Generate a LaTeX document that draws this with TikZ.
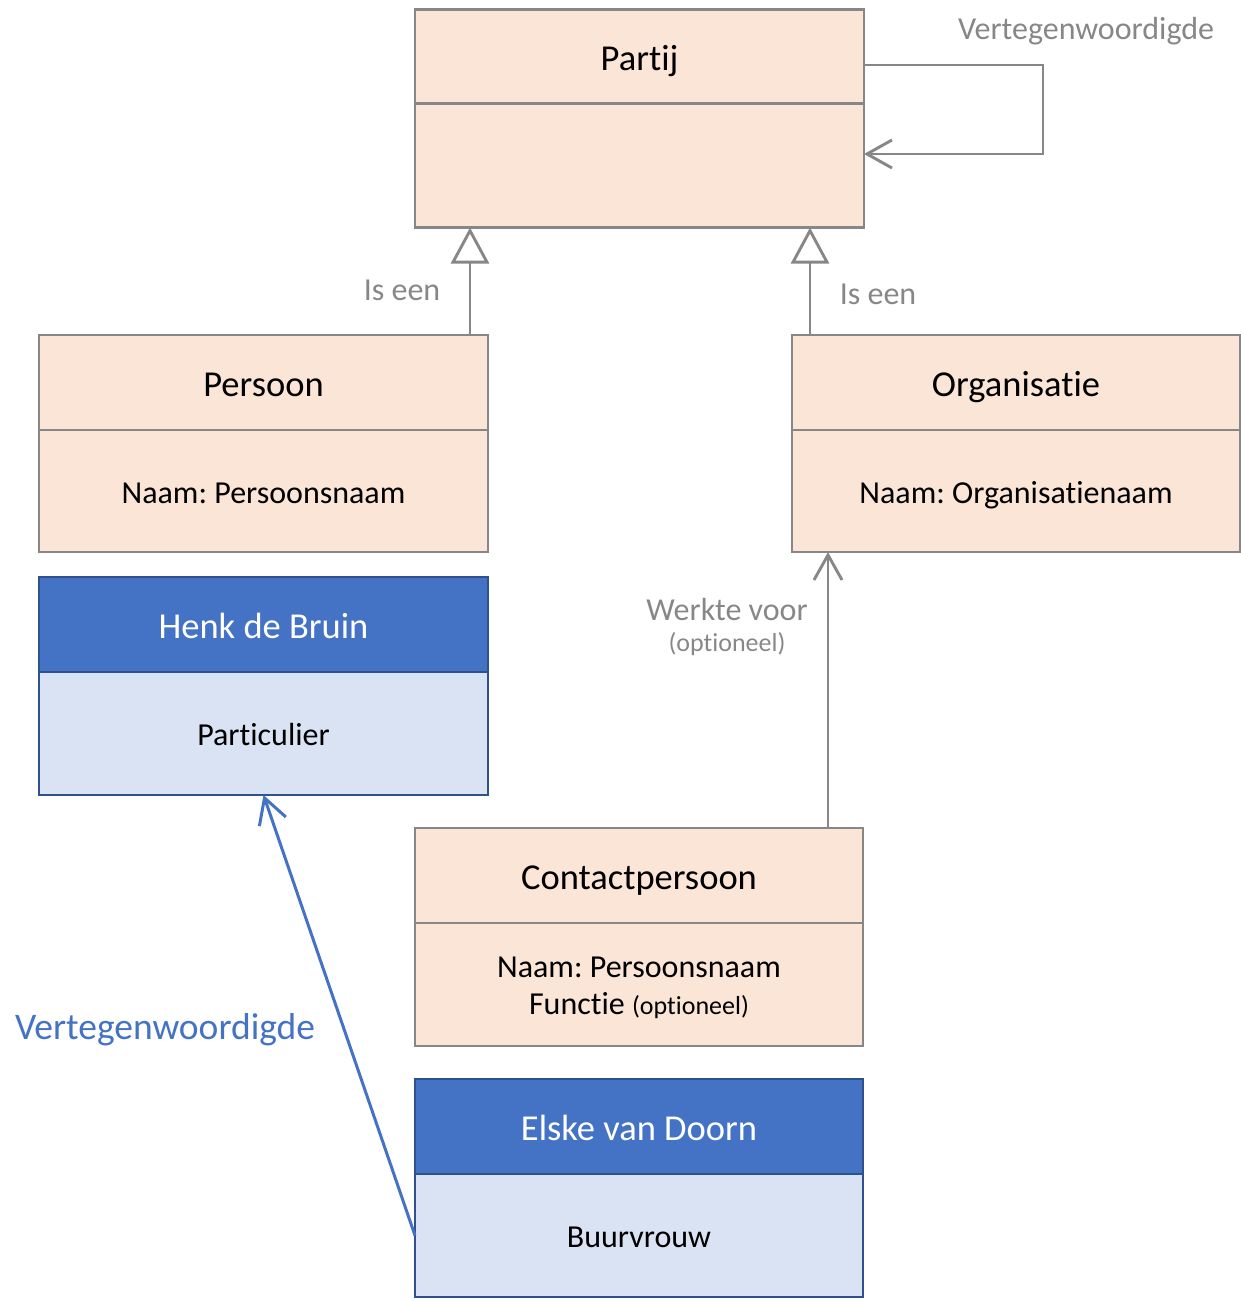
\documentclass[tikz,border=0pt]{standalone}
\usepackage{fontspec}
\setmainfont{Carlito}[Ligatures=NoCommon]
\usetikzlibrary{arrows.meta}
\frenchspacing
\definecolor{peach}{HTML}{FBE5D6}
\definecolor{umlgray}{HTML}{878787}
\definecolor{hdrblue}{HTML}{4472C4}
\definecolor{bodyblue}{HTML}{DAE3F3}
\definecolor{edgeblue}{HTML}{2F528F}
\newcommand{\bigtxt}{\fontsize{36.5}{44}\selectfont}
\newcommand{\midtxt}{\fontsize{32}{38}\selectfont}
\newcommand{\smalltxt}{\fontsize{26}{31}\selectfont}
\tikzset{
  box/.style={draw, line width=2.9pt, inner sep=0pt, outer sep=0pt, minimum width=449pt, align=center},
  hdrP/.style={box, draw=umlgray, fill=peach, minimum height=94pt, font=\bigtxt, text height=32pt, text depth=5pt},
  bodyP/.style={box, draw=umlgray, fill=peach, minimum height=123pt, font=\midtxt},
  hdrB/.style={box, draw=edgeblue, fill=hdrblue, text=white, minimum height=95pt, font=\bigtxt, text height=32pt, text depth=5pt},
  bodyB/.style={box, draw=edgeblue, fill=bodyblue, minimum height=123pt, font=\midtxt},
  oneline/.style={text height=28pt, text depth=4pt},
  conn/.style={draw=umlgray, line width=2.9pt},
  gen/.style={conn, -{Triangle[length=36pt, width=38pt, fill=white]}},
  assoc/.style={conn, -{Straight Barb[length=25pt, width=28pt]}},
  lbl/.style={text=umlgray, font=\midtxt, inner sep=0pt},
}
\begin{document}
\begin{tikzpicture}[x=1pt, y=-1pt]
\useasboundingbox (0,0) rectangle (1241,1301);

% Partij
\node[hdrP] (partijH) at (639.5,56.5) {Partij};
\node[bodyP, anchor=north, minimum height=124pt] (partijB) at (partijH.south) {};

% Persoon
\node[hdrP, minimum height=95pt] (persoonH) at (263.5,382.5) {Persoon};
\node[bodyP, oneline, anchor=north, minimum height=122pt] (persoonB) at (persoonH.south) {Naam: Persoonsnaam};

% Organisatie
\node[hdrP, minimum height=95pt, minimum width=448pt] (orgH) at (1016,382.5) {Organisatie};
\node[bodyP, oneline, anchor=north, minimum height=122pt, minimum width=448pt] (orgB) at (orgH.south) {Naam: Organisatienaam};

% Henk de Bruin
\node[hdrB] (henkH) at (263.5,624.5) {Henk de Bruin};
\node[bodyB, oneline, anchor=north] (henkB) at (henkH.south) {Particulier};

% Contactpersoon
\node[hdrP, minimum width=448pt, minimum height=95pt] (contactH) at (639,875.5) {Contactpersoon};
\node[bodyP, anchor=north, minimum width=448pt] (contactB) at (contactH.south) {};
\node[font=\midtxt, align=center, inner sep=0pt] (contactTxt) at ([yshift=-3pt]contactB.center)
  {Naam: Persoonsnaam\\[-1pt]Functie {\smalltxt (optioneel)}};

% Elske van Doorn
\node[hdrB, minimum width=448pt] (elskeH) at (639,1126.5) {Elske van Doorn};
\node[bodyB, oneline, anchor=north, minimum width=448pt] (elskeB) at (elskeH.south) {Buurvrouw};

% self association on Partij
\coordinate (loopA) at (1043,65);
\coordinate (loopB) at (1043,154);
\draw[assoc] (partijH.east |- loopA) -- (loopA) -- (loopB) -- (partijB.east |- loopB);
\node[lbl] (loopLbl) at (1086,31) {Vertegenwoordigde};

% generalisations
\coordinate (g1) at (470,0);
\coordinate (g2) at (810,0);
\draw[gen] (persoonH.north -| g1) -- (partijB.south -| g1);
\draw[gen] (orgH.north -| g2) -- (partijB.south -| g2);
\node[lbl] (isL) at (402,290) {Is een};
\node[lbl] (isR) at (878,294) {Is een};

% works for
\coordinate (w) at (828,0);
\draw[assoc] (contactH.north -| w) -- (orgB.south -| w);
\node[lbl] (werkLbl) at (727,609) {Werkte voor};
\node[lbl, font=\smalltxt] (optLbl) at (727,644) {(optioneel)};

% instance link
\draw[draw=hdrblue, line width=3pt, -{Straight Barb[length=25pt, width=28pt]}] (elskeB.west) -- (henkB.south);
\node[text=hdrblue, font=\fontsize{37.5}{44}\selectfont, inner sep=0pt] (instLbl) at (165,1030) {Vertegenwoordigde};
\end{tikzpicture}
\end{document}
